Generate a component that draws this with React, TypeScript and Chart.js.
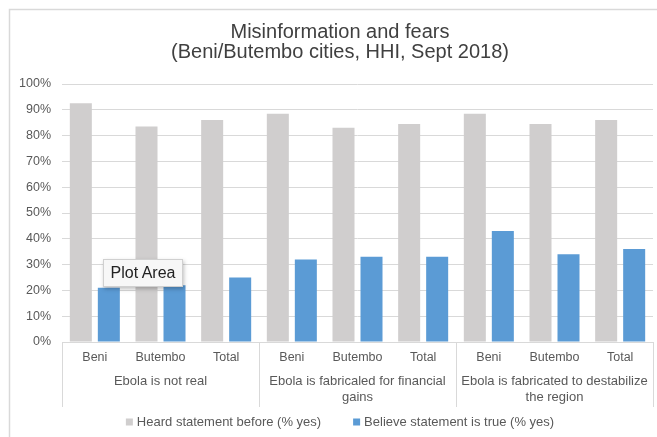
import React, { useEffect, useRef } from "react";
import { Chart, registerables } from "chart.js";

Chart.register(...registerables);

const titleLines = ["Misinformation and fears", "(Beni/Butembo cities, HHI, Sept 2018)"];
const cities = ["Beni", "Butembo", "Total", "Beni", "Butembo", "Total", "Beni", "Butembo", "Total"];
const groups: string[][] = [
  ["Ebola is not real"],
  ["Ebola is fabricaled for financial", "gains"],
  ["Ebola is fabricated to destabilize", "the region"],
];
const heardLabel = "Heard statement before (% yes)";
const believeLabel = "Believe statement is true (% yes)";
const heardValues = [92.5, 83.5, 86, 88.5, 83, 84.5, 88.5, 84.5, 86];
const believeValues = [21, 22, 25, 32, 33, 33, 43, 34, 36];
const yTicks = [0, 10, 20, 30, 40, 50, 60, 70, 80, 90, 100];

const GRAY = "#D0CECE";
const BLUE = "#5B9BD5";
const TEXT = "#595959";
const FONT = "'Liberation Sans', Arial, Helvetica, sans-serif";

const decorPlugin = {
  id: "decor",
  afterDraw(chart: any) {
    const ctx = chart.ctx as CanvasRenderingContext2D;
    const W = chart.width;
    const H = chart.height;
    const xs = chart.scales.x;
    const area = chart.chartArea;
    ctx.save();
    // frame
    ctx.strokeStyle = "#D9D9D9";
    ctx.lineWidth = 1.5;
    ctx.beginPath();
    ctx.moveTo(1.5, H);
    ctx.lineTo(1.5, 1.5);
    ctx.lineTo(W, 1.5);
    ctx.stroke();

    // title
    ctx.fillStyle = "#404040";
    ctx.font = `20px ${FONT}`;
    ctx.textAlign = "center";
    ctx.textBaseline = "middle";
    const cx = W / 2;
    ctx.fillText(titleLines[0], cx, 24);
    ctx.fillText(titleLines[1], cx, 44);

    // group separators and labels
    const n = cities.length;
    const per = n / groups.length;
    const half = (xs.getPixelForValue(1) - xs.getPixelForValue(0)) / 2;
    ctx.strokeStyle = "#D9D9D9";
    ctx.lineWidth = 1;
    for (let g = 0; g <= groups.length; g++) {
      const idx = Math.min(g * per, n - 1);
      const x = g * per >= n ? xs.getPixelForValue(n - 1) + half : xs.getPixelForValue(idx) - half;
      const px = Math.round(x) + 0.5;
      ctx.beginPath();
      ctx.moveTo(px, area.bottom);
      ctx.lineTo(px, 399);
      ctx.stroke();
    }
    ctx.fillStyle = TEXT;
    ctx.font = `13px ${FONT}`;
    groups.forEach((lines, g) => {
      const a = xs.getPixelForValue(g * per) - half;
      const b = xs.getPixelForValue(g * per + per - 1) + half;
      lines.forEach((line, i) => {
        ctx.fillText(line, (a + b) / 2, 373 + i * 16);
      });
    });

    // legend
    const ds = chart.data.datasets;
    ctx.font = `13px ${FONT}`;
    const box = 7;
    const gapBox = 4;
    const gapItem = 32;
    const widths = ds.map((d: any) => box + gapBox + ctx.measureText(d.label).width);
    const total = widths.reduce((s: number, w: number) => s + w, 0) + gapItem * (ds.length - 1);
    let lx = cx - total / 2;
    const ly = 414;
    ctx.textAlign = "left";
    ds.forEach((d: any, i: number) => {
      ctx.fillStyle = d.backgroundColor;
      ctx.fillRect(lx, ly - box / 2, box, box);
      ctx.fillStyle = TEXT;
      ctx.fillText(d.label, lx + box + gapBox, ly);
      lx += widths[i] + gapItem;
    });
    ctx.restore();
  },
};

export default function App() {
  const ref = useRef<HTMLCanvasElement>(null);
  useEffect(() => {
    if (!ref.current) return;
    const chart = new Chart(ref.current, {
      type: "bar",
      data: {
        labels: cities,
        datasets: [
          {
            label: heardLabel,
            data: heardValues,
            backgroundColor: GRAY,
            categoryPercentage: 0.853,
            barPercentage: 0.786,
          },
          {
            label: believeLabel,
            data: believeValues,
            backgroundColor: BLUE,
            categoryPercentage: 0.853,
            barPercentage: 0.786,
          },
        ],
      },
      options: {
        responsive: false,
        animation: false,
        layout: { padding: { top: 76, left: 0, right: 19, bottom: 0 } },
        plugins: {
          legend: { display: false },
          title: { display: false },
          tooltip: { enabled: false },
        },
        scales: {
          x: {
            grid: { display: false, drawTicks: false },
            border: { display: true, color: "#D9D9D9" },
            ticks: {
              color: TEXT,
              font: { family: FONT, size: 12.5 },
              padding: 8,
              maxRotation: 0,
              autoSkip: false,
            },
            afterFit: (s: any) => {
              s.height = 95;
            },
          },
          y: {
            min: 0,
            max: 100,
            grid: { color: "#D9D9D9", drawTicks: false },
            border: { display: false },
            afterBuildTicks: (s: any) => {
              s.ticks = yTicks.map((v) => ({ value: v }));
            },
            ticks: {
              color: TEXT,
              font: { family: FONT, size: 12.5 },
              padding: 11,
              callback: (v: any) => `${v}%`,
            },
            afterFit: (s: any) => {
              s.width = 54;
            },
          },
        },
      },
      plugins: [decorPlugin],
    });
    return () => chart.destroy();
  }, []);

  return (
    <div
      style={{
        position: "fixed",
        left: 0,
        top: 0,
        width: 657,
        height: 437,
        overflow: "hidden",
        background: "#fff",
      }}
    >
      <canvas
        ref={ref}
        width={664}
        height={429}
        style={{ position: "absolute", left: 8, top: 8, width: 664, height: 429 }}
      />
      <div
        style={{
          position: "absolute",
          left: 103,
          top: 259,
          width: 80,
          height: 28,
          boxSizing: "border-box",
          background: "#F7F7F7",
          border: "1px solid #D0D0D0",
          boxShadow: "1px 2px 4px rgba(0,0,0,0.25)",
          fontFamily: FONT,
          fontSize: 16,
          color: "#222",
          display: "flex",
          alignItems: "center",
          justifyContent: "center",
        }}
      >
        Plot Area
      </div>
    </div>
  );
}
